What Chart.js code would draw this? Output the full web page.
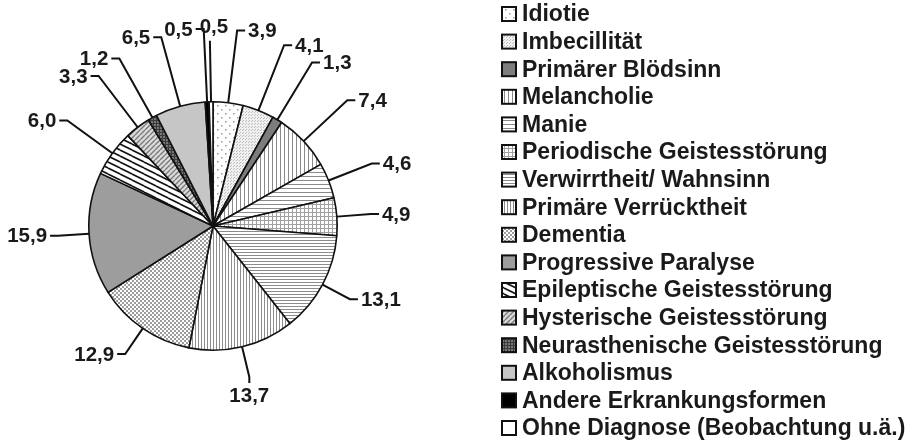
<!DOCTYPE html>
<html>
<head>
<meta charset="utf-8">
<script src="https://cdn.jsdelivr.net/npm/chart.js@4.4.0/dist/chart.umd.min.js"></script>
<style>
  body { margin: 0; background: #fff; }
  #wrap { width: 915px; height: 444px; }
</style>
</head>
<body>
<div id="wrap"><canvas id="pieChart" width="915" height="444"></canvas></div>
<script>
// Diagnosen (Anteil in %)
const categories = ['Idiotie', 'Imbecillität', 'Primärer Blödsinn', 'Melancholie', 'Manie',
    'Periodische Geistesstörung', 'Verwirrtheit/ Wahnsinn', 'Primäre Verrücktheit', 'Dementia',
    'Progressive Paralyse', 'Epileptische Geistesstörung', 'Hysterische Geistesstörung',
    'Neurasthenische Geistesstörung', 'Alkoholismus', 'Andere Erkrankungsformen',
    'Ohne Diagnose (Beobachtung u.ä.)'];
const shares = [3.9, 4.1, 1.3, 7.4, 4.6, 4.9, 13.1, 13.7, 12.9, 15.9, 6.0, 3.3, 1.2, 6.5, 0.5, 0.5];
const shareLabels = ['3,9', '4,1', '1,3', '7,4', '4,6', '4,9', '13,1', '13,7', '12,9', '15,9',
    '6,0', '3,3', '1,2', '6,5', '0,5', '0,5'];

// pattern helpers
function tile(w, h, bg, draw) {
    const c = document.createElement('canvas');
    c.width = w; c.height = h;
    const g = c.getContext('2d');
    g.fillStyle = bg;
    g.fillRect(0, 0, w, h);
    if (draw) draw(g, w, h);
    return c.getContext('2d').createPattern(c, 'repeat');
}

const fills = [
    // Idiotie: sparse dots
    tile(8, 8, '#fff', (g) => { g.fillStyle = '#9a9a9a'; g.fillRect(1, 1, 1.5, 1.5); g.fillRect(5, 5, 1.5, 1.5); }),
    // Imbecillität: fine light stipple
    tile(3, 3, '#f0f0f0', (g) => { g.fillStyle = '#bdbdbd'; g.fillRect(0, 0, 1, 1); g.fillRect(2, 1, 1, 1); }),
    '#7d7d7d',
    // Melancholie: vertical lines
    tile(4, 4, '#fff', (g) => { g.fillStyle = '#8a8a8a'; g.fillRect(0, 0, 1, 4); }),
    // Manie: horizontal lines
    tile(4, 4, '#fff', (g) => { g.fillStyle = '#8a8a8a'; g.fillRect(0, 0, 4, 1); }),
    // Periodische: grid
    tile(4, 4, '#fff', (g) => { g.fillStyle = '#a0a0a0'; g.fillRect(0, 0, 4, 1); g.fillRect(0, 0, 1, 4); }),
    // Verwirrtheit: dense horizontal lines
    tile(3, 3, '#fff', (g) => { g.fillStyle = '#8c8c8c'; g.fillRect(0, 0, 3, 1); }),
    // Primäre Verrücktheit: dense vertical lines
    tile(3, 3, '#fff', (g) => { g.fillStyle = '#8c8c8c'; g.fillRect(0, 0, 1, 3); }),
    // Dementia: checker dots
    tile(4, 4, '#fff', (g) => { g.fillStyle = '#9c9c9c'; g.fillRect(0, 0, 2, 2); g.fillRect(2, 2, 2, 2); }),
    '#9d9d9d',
    // Epileptische: black shallow diagonals
    tile(12, 6, '#fff', (g, w, h) => {
        g.strokeStyle = '#111'; g.lineWidth = 1.6;
        for (let k = -1; k <= 1; k++) { g.beginPath(); g.moveTo(0, k * h); g.lineTo(w, (k + 1) * h); g.stroke(); }
    }),
    // Hysterische: grey diagonals on light grey
    tile(5, 5, '#dcdcdc', (g, w, h) => {
        g.strokeStyle = '#7a7a7a'; g.lineWidth = 1.4;
        for (let k = -1; k <= 1; k++) { g.beginPath(); g.moveTo(k * w, h); g.lineTo((k + 1) * w, 0); g.stroke(); }
    }),
    // Neurasthenische: dark grid
    tile(3, 3, '#777', (g) => { g.fillStyle = '#3a3a3a'; g.fillRect(0, 0, 3, 1); g.fillRect(0, 0, 1, 3); }),
    '#c6c6c6',
    '#000',
    '#fff'
];

// leader lines + value labels
const leaderPlugin = {
    id: 'leaders',
    afterDatasetsDraw(chart) {
        const ctx = chart.ctx;
        const arcs = chart.getDatasetMeta(0).data;
        ctx.save();
        ctx.strokeStyle = '#111';
        ctx.lineWidth = 2;
        ctx.fillStyle = '#1a1a1a';
        ctx.font = 'bold 20.5px "Liberation Sans", Arial, sans-serif';
        arcs.forEach((arc, i) => {
            const mid = (arc.startAngle + arc.endAngle) / 2;
            const ux = Math.cos(mid), uy = Math.sin(mid);
            const r = arc.outerRadius;
            const d = r * 1.25 + 42 * Math.max(0, -uy);
            const ax = arc.x + r * ux, ay = arc.y + r * uy;
            const ex = arc.x + d * ux, ey = arc.y + d * uy;
            ctx.beginPath();
            ctx.moveTo(ax, ay);
            if (Math.abs(ux) < 0.03 && uy < 0) {
                // near-vertical at the top: short stem, label centred above
                ctx.lineTo(ex, ey + 12);
                ctx.stroke();
                ctx.textAlign = 'center';
                ctx.textBaseline = 'bottom';
                ctx.fillText(shareLabels[i], ex + 4, ey + 9);
            } else if (Math.abs(ux) < 0.3 && uy > 0) {
                ctx.lineTo(ex, ey);
                ctx.lineTo(ex, ey + 6);
                ctx.stroke();
                ctx.textAlign = 'center';
                ctx.textBaseline = 'top';
                ctx.fillText(shareLabels[i], ex, ey + 9);
            } else {
                const s = ux > 0 ? 1 : -1;
                ctx.lineTo(ex, ey);
                ctx.lineTo(ex + s * 8, ey);
                ctx.stroke();
                ctx.textAlign = s > 0 ? 'left' : 'right';
                ctx.textBaseline = 'middle';
                ctx.fillText(shareLabels[i], ex + s * 11, ey + 1);
            }
        });
        ctx.restore();
    }
};

// legend on the right
const legendPlugin = {
    id: 'sideLegend',
    afterDraw(chart) {
        const ctx = chart.ctx;
        ctx.save();
        ctx.font = 'bold 23px "Liberation Sans", Arial, sans-serif';
        ctx.textAlign = 'left';
        ctx.textBaseline = 'middle';
        categories.forEach((name, i) => {
            const y = 14 + i * 27.6;
            ctx.fillStyle = fills[i];
            ctx.fillRect(502, y - 7, 14, 14);
            ctx.strokeStyle = '#111';
            ctx.lineWidth = 2;
            ctx.strokeRect(502, y - 7, 14, 14);
            ctx.fillStyle = '#1a1a1a';
            ctx.fillText(name, 522, y + 1);
        });
        ctx.restore();
    }
};

const ctxPie = document.getElementById('pieChart').getContext('2d');
const pieChart = new Chart(ctxPie, {
    type: 'pie',
    data: {
        labels: categories,
        datasets: [{
            data: shares,
            backgroundColor: fills,
            borderColor: '#111',
            borderWidth: 1.6
        }]
    },
    options: {
        responsive: false,
        animation: false,
        layout: { padding: { left: 88, right: 577, top: 101, bottom: 93 } },
        plugins: {
            legend: { display: false },
            tooltip: { enabled: false }
        }
    },
    plugins: [leaderPlugin, legendPlugin]
});
</script>
</body>
</html>
